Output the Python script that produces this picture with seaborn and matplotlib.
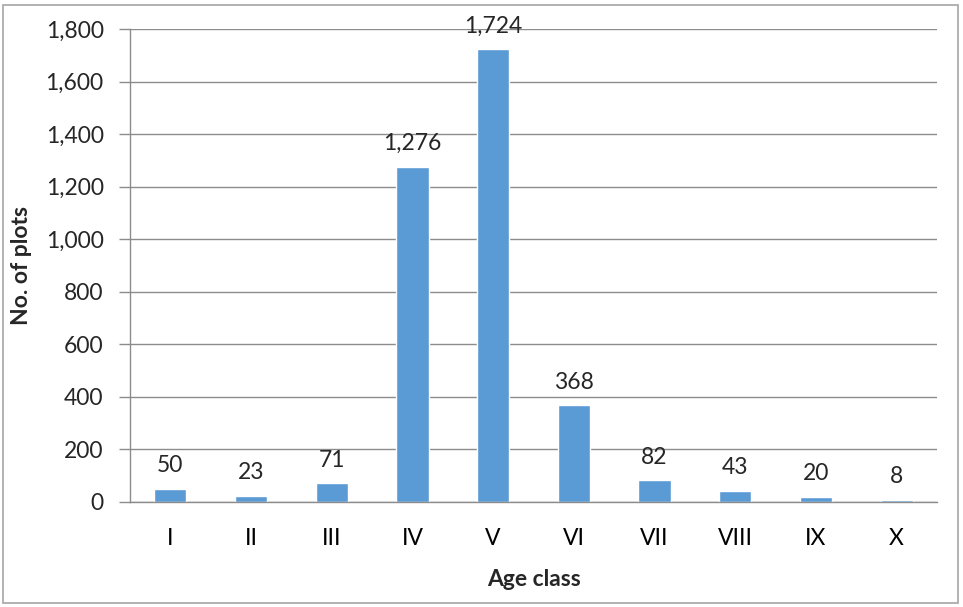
import matplotlib.pyplot as plt
import matplotlib.ticker as mticker
import numpy as np
import pandas as pd
import seaborn as sns

age_classes = ['I', 'II', 'III', 'IV', 'V', 'VI', 'VII', 'VIII', 'IX', 'X']
n_plots = [50, 23, 71, 1276, 1724, 368, 82, 43, 20, 8]

df = pd.DataFrame({'age_class': age_classes, 'plots': n_plots})

sns.set_theme(style='white')
plt.rcParams['font.family'] = ['Lato', 'DejaVu Sans']

fig = plt.figure(figsize=(9.63, 6.07), dpi=100)
ax = fig.add_axes([130 / 963, 1 - 502 / 607, (937 - 130) / 963, (502 - 29) / 607])

sns.barplot(data=df, x='age_class', y='plots', color='#5B9BD5',
            width=0.4, saturation=1, ax=ax)

ax.set_ylim(0, 1800)
ax.set_xlim(-0.5, len(age_classes) - 0.5)
ax.yaxis.set_major_locator(mticker.MultipleLocator(200))
ax.yaxis.set_major_formatter(mticker.StrMethodFormatter('{x:,.0f}'))
ax.grid(axis='y', color='#8C8C8C', linewidth=1)
ax.set_axisbelow(True)

for s in ['top', 'right']:
    ax.spines[s].set_visible(False)
for s in ['left', 'bottom']:
    ax.spines[s].set_color('#8C8C8C')
    ax.spines[s].set_linewidth(1)

# ticks between categories on x, outward ticks on y
ax.set_xticks(np.arange(-0.5, len(age_classes), 1), minor=True)
ax.tick_params(axis='x', which='major', length=0, labelsize=16.5, pad=19, colors='black')
ax.tick_params(axis='x', which='minor', length=8, width=1, color='#8C8C8C', direction='out')
ax.tick_params(axis='y', length=8, width=1, color='#8C8C8C', direction='out',
               labelsize=16.5, pad=11, left=True)

ax.bar_label(ax.containers[0], labels=[f'{v:,}' for v in n_plots],
             padding=9, fontsize=16.5)

ax.set_xlabel('Age class', fontsize=16.5, fontweight='bold', labelpad=14)
ax.set_ylabel('No. of plots', fontsize=16.5, fontweight='bold', labelpad=10)

fig.patches.append(plt.Rectangle((3 / 963, 4 / 607), 955 / 963, 598 / 607,
                                 transform=fig.transFigure, fill=False,
                                 edgecolor='#A6A6A6', linewidth=1.2))

fig.savefig('out.png', dpi=100)
